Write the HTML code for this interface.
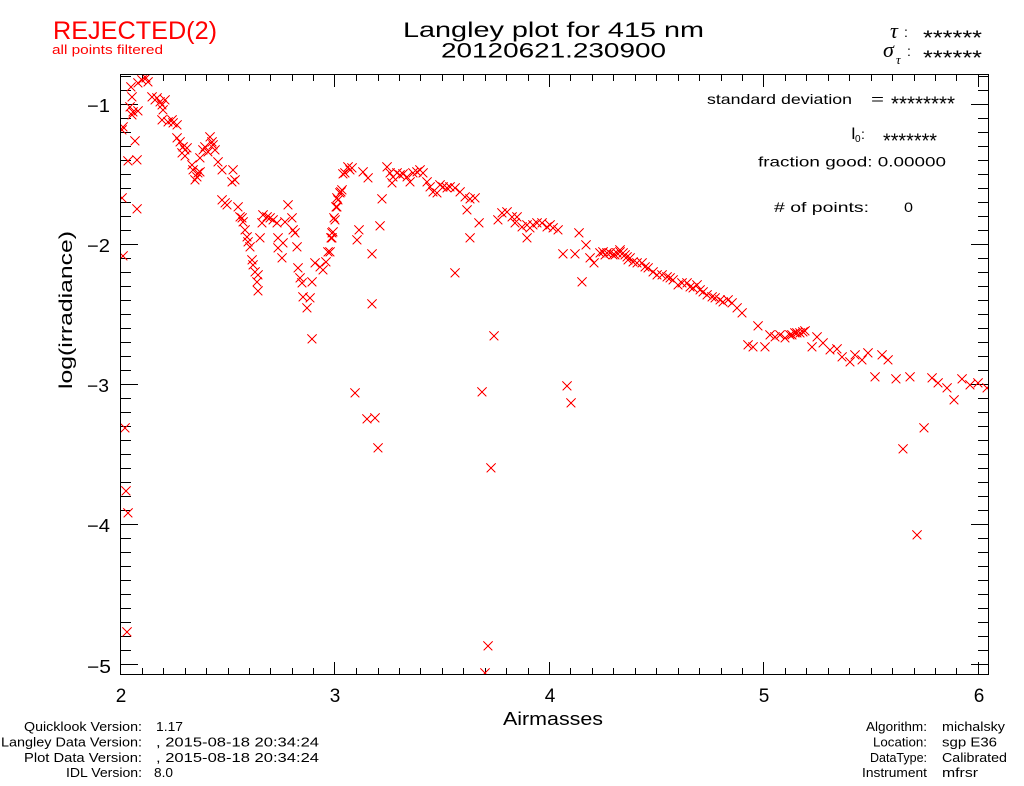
<!DOCTYPE html>
<html><head><meta charset="utf-8"><style>
html,body{margin:0;padding:0;background:#fff;}
svg{display:block;}
text{font-family:"Liberation Sans",sans-serif;}
</style></head><body>
<svg width="1024" height="786" viewBox="0 0 1024 786" xmlns="http://www.w3.org/2000/svg">
<rect width="1024" height="786" fill="#fff"/>
<defs>
<path id="m" d="M-4.5 -4.5l9 9m-9 0l9 -9" fill="none" stroke="#ff0000" stroke-width="1"/>
<clipPath id="pc"><rect x="121" y="75" width="867" height="599"/></clipPath>
</defs>

<!-- header texts -->
<text x="53" y="39" font-size="25" fill="#ff0000" textLength="164" lengthAdjust="spacingAndGlyphs">REJECTED(2)</text>
<text x="52" y="54" font-size="13" fill="#ff0000" textLength="111" lengthAdjust="spacingAndGlyphs">all points filtered</text>
<text x="403" y="37" font-size="21" textLength="301" lengthAdjust="spacingAndGlyphs">Langley plot for 415 nm</text>
<text x="441" y="57.5" font-size="21" textLength="225" lengthAdjust="spacingAndGlyphs">20120621.230900</text>

<text x="890" y="38" font-size="22" font-style="italic" style="font-family:'Liberation Serif',serif">τ</text>
<text x="904" y="37" font-size="14">:</text>
<text x="923" y="44.5" font-size="20" textLength="59" lengthAdjust="spacingAndGlyphs">******</text>
<text x="883" y="57" font-size="22" font-style="italic" style="font-family:'Liberation Serif',serif">σ</text>
<text x="896" y="64" font-size="13" font-style="italic" style="font-family:'Liberation Serif',serif">τ</text>
<text x="907" y="56" font-size="14">:</text>
<text x="923" y="64.5" font-size="20" textLength="59" lengthAdjust="spacingAndGlyphs">******</text>

<!-- in-plot annotations -->
<text x="707" y="104" font-size="14" textLength="145" lengthAdjust="spacingAndGlyphs">standard deviation</text>
<text x="871" y="104" font-size="14" textLength="13" lengthAdjust="spacingAndGlyphs">=</text>
<text x="891" y="110.5" font-size="20" textLength="64" lengthAdjust="spacingAndGlyphs">********</text>
<text x="851" y="139" font-size="17">I</text>
<text x="855" y="142" font-size="10">0</text>
<text x="861" y="139" font-size="14">:</text>
<text x="883" y="147.3" font-size="20" textLength="54" lengthAdjust="spacingAndGlyphs">*******</text>
<text x="758" y="166.5" font-size="14" textLength="188" lengthAdjust="spacingAndGlyphs">fraction good: 0.00000</text>
<text x="774" y="212" font-size="14" textLength="95" lengthAdjust="spacingAndGlyphs"># of points:</text>
<text x="904" y="212" font-size="14" textLength="9" lengthAdjust="spacingAndGlyphs">0</text>

<!-- axes box -->
<rect x="120.5" y="74.5" width="868" height="600" fill="none" stroke="#000" stroke-width="1" shape-rendering="crispEdges"/>
<g stroke="#000" stroke-width="1" shape-rendering="crispEdges" fill="none">
<path d="
M120.5 674v-12M142.5 674v-6M163.5 674v-6M185.5 674v-6M206.5 674v-6M228.5 674v-6M249.5 674v-6M270.5 674v-6M292.5 674v-6M313.5 674v-6M334.5 674v-12
M356.5 674v-6M378.5 674v-6M399.5 674v-6M420.5 674v-6M442.5 674v-6M463.5 674v-6M485.5 674v-6M506.5 674v-6M528.5 674v-6M549.5 674v-12
M570.5 674v-6M592.5 674v-6M613.5 674v-6M635.5 674v-6M656.5 674v-6M678.5 674v-6M699.5 674v-6M721.5 674v-6M742.5 674v-6M763.5 674v-12
M785.5 674v-6M806.5 674v-6M828.5 674v-6M849.5 674v-6M871.5 674v-6M892.5 674v-6M914.5 674v-6M935.5 674v-6M956.5 674v-6M978.5 674v-12
M120.5 75v12M142.5 75v6M163.5 75v6M185.5 75v6M206.5 75v6M228.5 75v6M249.5 75v6M270.5 75v6M292.5 75v6M313.5 75v6M334.5 75v12
M356.5 75v6M378.5 75v6M399.5 75v6M420.5 75v6M442.5 75v6M463.5 75v6M485.5 75v6M506.5 75v6M528.5 75v6M549.5 75v12
M570.5 75v6M592.5 75v6M613.5 75v6M635.5 75v6M656.5 75v6M678.5 75v6M699.5 75v6M721.5 75v6M742.5 75v6M763.5 75v12
M785.5 75v6M806.5 75v6M828.5 75v6M849.5 75v6M871.5 75v6M892.5 75v6M914.5 75v6M935.5 75v6M956.5 75v6M978.5 75v12
"/>
<path d="
M121 76.5h10M121 90.5h10M121 104.5h17M121 118.5h10M121 132.5h10M121 146.5h10M121 160.5h10M121 174.5h10M121 188.5h10M121 202.5h10M121 216.5h10M121 230.5h10
M121 244.5h17M121 258.5h10M121 272.5h10M121 286.5h10M121 300.5h10M121 314.5h10M121 328.5h10M121 342.5h10M121 356.5h10M121 370.5h10
M121 384.5h17M121 398.5h10M121 412.5h10M121 426.5h10M121 440.5h10M121 454.5h10M121 468.5h10M121 482.5h10M121 496.5h10M121 510.5h10
M121 524.5h17M121 538.5h10M121 552.5h10M121 566.5h10M121 580.5h10M121 594.5h10M121 608.5h10M121 622.5h10M121 636.5h10M121 650.5h10
M121 664.5h17
M988 76.5h-10M988 90.5h-10M988 104.5h-17M988 118.5h-10M988 132.5h-10M988 146.5h-10M988 160.5h-10M988 174.5h-10M988 188.5h-10M988 202.5h-10M988 216.5h-10M988 230.5h-10
M988 244.5h-17M988 258.5h-10M988 272.5h-10M988 286.5h-10M988 300.5h-10M988 314.5h-10M988 328.5h-10M988 342.5h-10M988 356.5h-10M988 370.5h-10
M988 384.5h-17M988 398.5h-10M988 412.5h-10M988 426.5h-10M988 440.5h-10M988 454.5h-10M988 468.5h-10M988 482.5h-10M988 496.5h-10M988 510.5h-10
M988 524.5h-17M988 538.5h-10M988 552.5h-10M988 566.5h-10M988 580.5h-10M988 594.5h-10M988 608.5h-10M988 622.5h-10M988 636.5h-10M988 650.5h-10
M988 664.5h-17
"/>
</g>

<!-- tick labels -->
<g font-size="19" text-anchor="middle">
<text x="121" y="702">2</text>
<text x="335" y="702">3</text>
<text x="550" y="702">4</text>
<text x="764" y="702">5</text>
<text x="979" y="702">6</text>
</g>
<g font-size="18">
<text x="87" y="112" textLength="23" lengthAdjust="spacingAndGlyphs">−1</text>
<text x="87" y="252" textLength="23" lengthAdjust="spacingAndGlyphs">−2</text>
<text x="87" y="392" textLength="22" lengthAdjust="spacingAndGlyphs">−3</text>
<text x="87" y="532" textLength="23" lengthAdjust="spacingAndGlyphs">−4</text>
<text x="87" y="673" textLength="24" lengthAdjust="spacingAndGlyphs">−5</text>
</g>
<text x="503" y="725" font-size="18" textLength="100" lengthAdjust="spacingAndGlyphs">Airmasses</text>
<text transform="translate(72,310) rotate(-90)" x="0" y="0" font-size="18" text-anchor="middle" textLength="158" lengthAdjust="spacingAndGlyphs">log(irradiance)</text>

<!-- footer left -->
<g font-size="13">
<text x="24" y="731" textLength="118" lengthAdjust="spacingAndGlyphs">Quicklook Version:</text>
<text x="156" y="731" textLength="27" lengthAdjust="spacingAndGlyphs">1.17</text>
<text x="1" y="746.5" textLength="141" lengthAdjust="spacingAndGlyphs">Langley Data Version:</text>
<text x="156" y="746.5" textLength="163" lengthAdjust="spacingAndGlyphs">, 2015-08-18 20:34:24</text>
<text x="24" y="762" textLength="118" lengthAdjust="spacingAndGlyphs">Plot Data Version:</text>
<text x="156" y="762" textLength="163" lengthAdjust="spacingAndGlyphs">, 2015-08-18 20:34:24</text>
<text x="66" y="777" textLength="76" lengthAdjust="spacingAndGlyphs">IDL Version:</text>
<text x="154" y="777" textLength="19" lengthAdjust="spacingAndGlyphs">8.0</text>
<!-- footer right -->
<text x="866" y="731" textLength="61" lengthAdjust="spacingAndGlyphs">Algorithm:</text>
<text x="942" y="731" textLength="63" lengthAdjust="spacingAndGlyphs">michalsky</text>
<text x="873" y="746.5" textLength="54" lengthAdjust="spacingAndGlyphs">Location:</text>
<text x="942" y="746.5" textLength="55" lengthAdjust="spacingAndGlyphs">sgp E36</text>
<text x="870" y="762" textLength="57" lengthAdjust="spacingAndGlyphs">DataType:</text>
<text x="942" y="762" textLength="65" lengthAdjust="spacingAndGlyphs">Calibrated</text>
<text x="862" y="777" textLength="65" lengthAdjust="spacingAndGlyphs">Instrument</text>
<text x="942" y="777" textLength="36" lengthAdjust="spacingAndGlyphs">mfrsr</text>
</g>

<!-- data markers -->
<g clip-path="url(#pc)" shape-rendering="crispEdges">
<use href="#m" x="142" y="80"/><use href="#m" x="146" y="78"/><use href="#m" x="148" y="82"/><use href="#m" x="138" y="83"/>
<use href="#m" x="131" y="87"/><use href="#m" x="132" y="97"/><use href="#m" x="130" y="107"/><use href="#m" x="133" y="112"/>
<use href="#m" x="138" y="111"/><use href="#m" x="132" y="115"/><use href="#m" x="123" y="127"/><use href="#m" x="122" y="130"/>
<use href="#m" x="135" y="141"/><use href="#m" x="128" y="161"/><use href="#m" x="137" y="160"/><use href="#m" x="122" y="198"/>
<use href="#m" x="137" y="209"/><use href="#m" x="123" y="256"/><use href="#m" x="152" y="97"/><use href="#m" x="155" y="100"/>
<use href="#m" x="160" y="102"/><use href="#m" x="165" y="100"/><use href="#m" x="162" y="105"/><use href="#m" x="157" y="98"/>
<use href="#m" x="163" y="110"/><use href="#m" x="162" y="120"/><use href="#m" x="168" y="122"/><use href="#m" x="173" y="123"/>
<use href="#m" x="177" y="125"/><use href="#m" x="172" y="120"/><use href="#m" x="177" y="138"/><use href="#m" x="180" y="142"/>
<use href="#m" x="185" y="150"/><use href="#m" x="183" y="147"/><use href="#m" x="187" y="148"/><use href="#m" x="182" y="153"/>
<use href="#m" x="185" y="156"/><use href="#m" x="192" y="165"/><use href="#m" x="193" y="170"/><use href="#m" x="197" y="177"/>
<use href="#m" x="195" y="180"/><use href="#m" x="198" y="173"/><use href="#m" x="200" y="172"/><use href="#m" x="203" y="150"/>
<use href="#m" x="205" y="147"/><use href="#m" x="210" y="137"/><use href="#m" x="212" y="142"/><use href="#m" x="213" y="145"/>
<use href="#m" x="208" y="152"/><use href="#m" x="215" y="150"/><use href="#m" x="200" y="158"/><use href="#m" x="218" y="162"/>
<use href="#m" x="222" y="170"/><use href="#m" x="233" y="170"/><use href="#m" x="232" y="182"/><use href="#m" x="235" y="180"/>
<use href="#m" x="222" y="200"/><use href="#m" x="225" y="203"/><use href="#m" x="227" y="205"/><use href="#m" x="238" y="207"/>
<use href="#m" x="240" y="217"/><use href="#m" x="242" y="218"/><use href="#m" x="243" y="222"/><use href="#m" x="245" y="230"/>
<use href="#m" x="247" y="237"/><use href="#m" x="248" y="242"/><use href="#m" x="250" y="247"/><use href="#m" x="260" y="238"/>
<use href="#m" x="252" y="260"/><use href="#m" x="253" y="265"/><use href="#m" x="255" y="272"/><use href="#m" x="258" y="275"/>
<use href="#m" x="257" y="282"/><use href="#m" x="258" y="291"/><use href="#m" x="263" y="215"/><use href="#m" x="267" y="217"/>
<use href="#m" x="270" y="218"/><use href="#m" x="273" y="220"/><use href="#m" x="262" y="223"/><use href="#m" x="277" y="223"/>
<use href="#m" x="288" y="205"/><use href="#m" x="285" y="222"/><use href="#m" x="292" y="218"/><use href="#m" x="293" y="230"/>
<use href="#m" x="295" y="233"/><use href="#m" x="278" y="238"/><use href="#m" x="283" y="243"/><use href="#m" x="278" y="248"/>
<use href="#m" x="282" y="258"/><use href="#m" x="297" y="247"/><use href="#m" x="298" y="268"/><use href="#m" x="300" y="278"/>
<use href="#m" x="302" y="283"/><use href="#m" x="303" y="297"/><use href="#m" x="310" y="298"/><use href="#m" x="307" y="308"/>
<use href="#m" x="312" y="339"/><use href="#m" x="312" y="282"/><use href="#m" x="315" y="263"/><use href="#m" x="320" y="267"/>
<use href="#m" x="323" y="270"/><use href="#m" x="326" y="262"/><use href="#m" x="328" y="252"/><use href="#m" x="331" y="238"/>
<use href="#m" x="332" y="233"/><use href="#m" x="335" y="220"/><use href="#m" x="337" y="207"/><use href="#m" x="338" y="200"/>
<use href="#m" x="341" y="192"/><use href="#m" x="343" y="174"/>

<use href="#m" x="348" y="167"/><use href="#m" x="352" y="168"/><use href="#m" x="345" y="173"/><use href="#m" x="350" y="170"/>
<use href="#m" x="363" y="172"/><use href="#m" x="368" y="178"/><use href="#m" x="342" y="190"/><use href="#m" x="340" y="193"/>
<use href="#m" x="337" y="198"/><use href="#m" x="336" y="207"/><use href="#m" x="334" y="218"/><use href="#m" x="333" y="232"/>
<use href="#m" x="332" y="238"/><use href="#m" x="330" y="252"/><use href="#m" x="359" y="230"/><use href="#m" x="357" y="240"/>
<use href="#m" x="372" y="254"/><use href="#m" x="380" y="226"/><use href="#m" x="382" y="199"/><use href="#m" x="387" y="167"/>
<use href="#m" x="390" y="173"/><use href="#m" x="393" y="177"/><use href="#m" x="392" y="183"/><use href="#m" x="397" y="173"/>
<use href="#m" x="400" y="175"/><use href="#m" x="403" y="174"/><use href="#m" x="407" y="177"/><use href="#m" x="410" y="182"/>
<use href="#m" x="413" y="173"/><use href="#m" x="417" y="172"/><use href="#m" x="420" y="170"/><use href="#m" x="423" y="173"/>
<use href="#m" x="427" y="182"/><use href="#m" x="430" y="187"/><use href="#m" x="433" y="192"/><use href="#m" x="437" y="193"/>
<use href="#m" x="440" y="185"/><use href="#m" x="443" y="187"/><use href="#m" x="447" y="188"/><use href="#m" x="450" y="187"/>
<use href="#m" x="455" y="188"/><use href="#m" x="460" y="192"/><use href="#m" x="465" y="197"/><use href="#m" x="470" y="199"/>
<use href="#m" x="475" y="198"/><use href="#m" x="467" y="210"/><use href="#m" x="479" y="223"/><use href="#m" x="470" y="238"/>
<use href="#m" x="455" y="273"/><use href="#m" x="498" y="220"/><use href="#m" x="502" y="213"/><use href="#m" x="507" y="212"/>
<use href="#m" x="512" y="217"/><use href="#m" x="517" y="217"/><use href="#m" x="515" y="223"/><use href="#m" x="522" y="227"/>
<use href="#m" x="527" y="225"/><use href="#m" x="530" y="228"/><use href="#m" x="533" y="225"/><use href="#m" x="537" y="223"/>
<use href="#m" x="542" y="223"/><use href="#m" x="547" y="227"/><use href="#m" x="550" y="225"/><use href="#m" x="553" y="228"/>
<use href="#m" x="558" y="230"/><use href="#m" x="527" y="238"/><use href="#m" x="563" y="254"/><use href="#m" x="575" y="254"/>
<use href="#m" x="579" y="233"/><use href="#m" x="586" y="245"/><use href="#m" x="590" y="258"/><use href="#m" x="594" y="263"/>
<use href="#m" x="600" y="253"/><use href="#m" x="605" y="255"/><use href="#m" x="610" y="253"/><use href="#m" x="615" y="255"/>
<use href="#m" x="620" y="252"/><use href="#m" x="625" y="255"/><use href="#m" x="628" y="260"/><use href="#m" x="582" y="282"/>
<use href="#m" x="372" y="304"/><use href="#m" x="494" y="336"/>

<use href="#m" x="355" y="393"/><use href="#m" x="367" y="419"/><use href="#m" x="375" y="418"/><use href="#m" x="378" y="448"/>
<use href="#m" x="482" y="392"/><use href="#m" x="491" y="468"/><use href="#m" x="567" y="386"/><use href="#m" x="571" y="403"/>
<use href="#m" x="488" y="646"/><use href="#m" x="485" y="673"/>

<use href="#m" x="603" y="252"/><use href="#m" x="607" y="253"/><use href="#m" x="610" y="253"/><use href="#m" x="613" y="255"/>
<use href="#m" x="617" y="253"/><use href="#m" x="620" y="250"/><use href="#m" x="623" y="253"/><use href="#m" x="627" y="257"/>
<use href="#m" x="630" y="258"/><use href="#m" x="633" y="262"/><use href="#m" x="637" y="263"/><use href="#m" x="642" y="263"/>
<use href="#m" x="645" y="267"/><use href="#m" x="648" y="268"/><use href="#m" x="653" y="272"/><use href="#m" x="657" y="275"/>
<use href="#m" x="662" y="275"/><use href="#m" x="667" y="277"/><use href="#m" x="670" y="278"/><use href="#m" x="673" y="280"/>
<use href="#m" x="678" y="285"/><use href="#m" x="682" y="283"/><use href="#m" x="687" y="283"/><use href="#m" x="690" y="287"/>
<use href="#m" x="693" y="288"/><use href="#m" x="697" y="285"/><use href="#m" x="700" y="290"/><use href="#m" x="703" y="292"/>
<use href="#m" x="707" y="295"/><use href="#m" x="712" y="297"/><use href="#m" x="715" y="298"/><use href="#m" x="720" y="300"/>
<use href="#m" x="723" y="302"/><use href="#m" x="728" y="300"/><use href="#m" x="732" y="303"/><use href="#m" x="737" y="308"/>
<use href="#m" x="742" y="313"/><use href="#m" x="758" y="326"/><use href="#m" x="748" y="345"/><use href="#m" x="753" y="347"/>
<use href="#m" x="765" y="347"/><use href="#m" x="770" y="335"/><use href="#m" x="775" y="337"/><use href="#m" x="780" y="335"/>
<use href="#m" x="785" y="338"/><use href="#m" x="790" y="335"/><use href="#m" x="795" y="333"/>

<use href="#m" x="792" y="335"/><use href="#m" x="797" y="333"/><use href="#m" x="803" y="332"/><use href="#m" x="805" y="331"/>
<use href="#m" x="800" y="333"/><use href="#m" x="817" y="337"/><use href="#m" x="812" y="347"/><use href="#m" x="823" y="343"/>
<use href="#m" x="830" y="350"/><use href="#m" x="837" y="349"/><use href="#m" x="842" y="357"/><use href="#m" x="850" y="362"/>
<use href="#m" x="855" y="355"/><use href="#m" x="862" y="360"/><use href="#m" x="868" y="353"/><use href="#m" x="882" y="355"/>
<use href="#m" x="888" y="360"/><use href="#m" x="875" y="377"/><use href="#m" x="896" y="379"/><use href="#m" x="910" y="377"/>
<use href="#m" x="932" y="378"/><use href="#m" x="938" y="383"/><use href="#m" x="947" y="388"/><use href="#m" x="954" y="400"/>
<use href="#m" x="962" y="379"/><use href="#m" x="970" y="385"/><use href="#m" x="978" y="383"/><use href="#m" x="987" y="388"/>
<use href="#m" x="924" y="428"/><use href="#m" x="903" y="449"/><use href="#m" x="917" y="535"/>

<use href="#m" x="125" y="428"/><use href="#m" x="126" y="491"/><use href="#m" x="128" y="513"/><use href="#m" x="127" y="632"/>
</g>
</svg>
</body></html>
